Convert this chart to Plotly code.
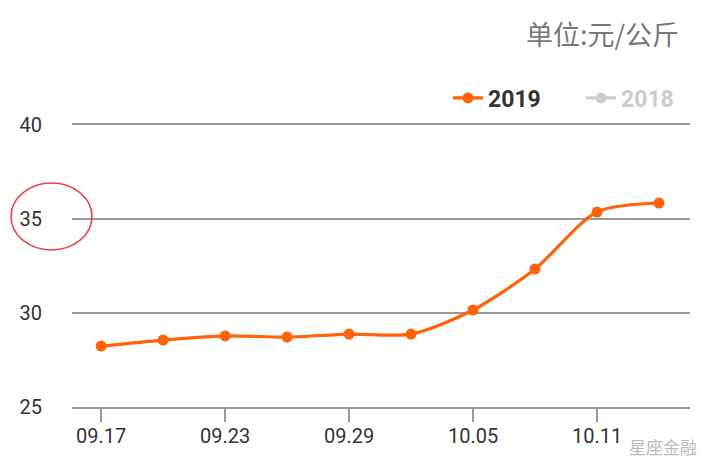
import plotly.graph_objects as go

dates = ["09.17", "09.20", "09.23", "09.26", "09.29", "10.02", "10.05", "10.08", "10.11", "10.14"]
price_2019 = [28.24, 28.56, 28.78, 28.72, 28.88, 28.88, 30.16, 32.34, 35.37, 35.85]
y_ticks = [25, 30, 35, 40]
x_tick_labels = dates[::2]

idx = list(range(len(dates)))
W, H = 720, 476
L, R, T, B = 72, 30, 125, 69
pw, ph = W - L - R, H - T - B

def px(x):
    return (x - L) / pw

def py(y):
    return (H - B - y) / ph

fig = go.Figure()
fig.add_trace(go.Scatter(
    x=idx, y=price_2019, name="2019", mode="lines+markers",
    line=dict(color="#FF6208", width=3.2, shape="spline", smoothing=0.8),
    marker=dict(size=11, color="#FF6208"),
    legend="legend",
))
fig.add_trace(go.Scatter(
    x=[None], y=[None], name="2018", mode="lines+markers",
    line=dict(color="#CCCCCC", width=3.2),
    marker=dict(size=11, color="#CCCCCC"),
    legend="legend2",
))

fig.update_layout(
    width=W, height=H,
    margin=dict(l=L, r=R, t=T, b=B, autoexpand=False),
    paper_bgcolor="white", plot_bgcolor="white",
    font=dict(family="Roboto, 'Noto Sans CJK SC', sans-serif", color="#333333", size=20),
    showlegend=True,
    legend=dict(orientation="h", x=px(448), y=py(98), xanchor="left", yanchor="middle",
                font=dict(size=23, color="#333333", family="Roboto, sans-serif", weight="bold"),
                bgcolor="rgba(0,0,0,0)", itemclick=False, itemwidth=30),
    legend2=dict(orientation="h", x=px(581), y=py(98), xanchor="left", yanchor="middle",
                 font=dict(size=23, color="#CCCCCC", family="Roboto, sans-serif", weight="bold"),
                 bgcolor="rgba(0,0,0,0)", itemclick=False, itemwidth=30),
    xaxis=dict(
        range=[-0.47, 9.5], tickvals=idx[::2], ticktext=x_tick_labels,
        showgrid=False, zeroline=False, showline=True, mirror=True,
        linecolor="#999999", linewidth=1.6,
        ticks="outside", ticklen=13, tickwidth=2, tickcolor="#999999",
        ticklabelstandoff=-3,
        tickfont=dict(size=20, color="#333333"),
    ),
    yaxis=dict(
        range=[25, 40], tickvals=y_ticks, showgrid=True, gridcolor="#999999", gridwidth=1.6,
        zeroline=False, showline=False, ticks="", ticklabelstandoff=29,
        tickfont=dict(size=20, color="#333333"),
    ),
    shapes=[dict(type="circle", xref="paper", yref="paper",
                 x0=px(11), x1=px(92), y0=py(250), y1=py(183),
                 line=dict(color="#E8454C", width=1.6))],
    annotations=[
        dict(text="单位:元/公斤", xref="paper", yref="paper", x=px(681), y=py(34),
             xanchor="right", yanchor="middle", showarrow=False,
             font=dict(size=27, color="#777777", family="'Noto Sans CJK SC', sans-serif")),
        dict(text="星座金融", xref="paper", yref="paper", x=px(627), y=py(446),
             xanchor="left", yanchor="middle", showarrow=False,
             font=dict(size=17, color="#BBBBBB", family="'Noto Sans CJK SC', sans-serif")),
    ],
)

fig.write_html("out.html", config={"displayModeBar": False},
               post_script="document.body.style.margin='0';")
